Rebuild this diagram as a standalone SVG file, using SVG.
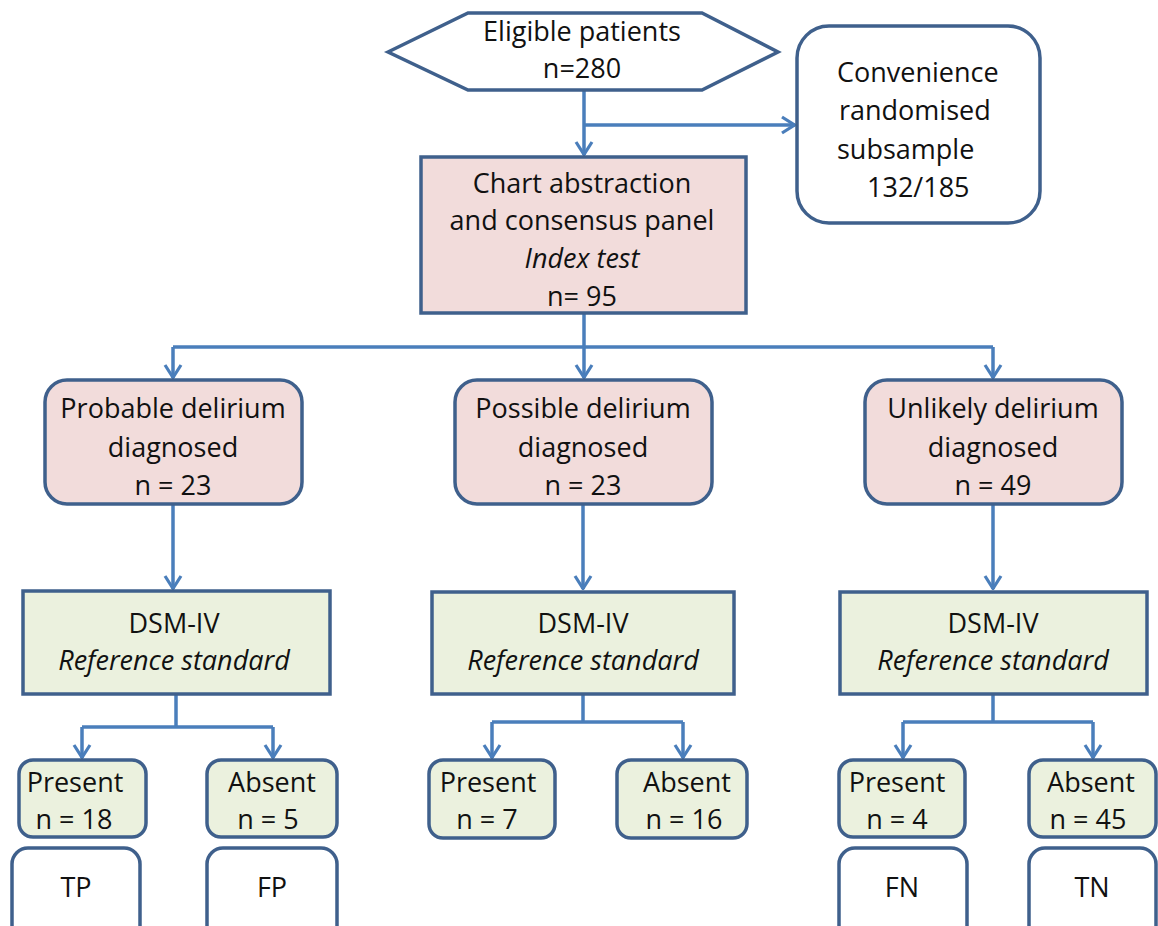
<svg xmlns="http://www.w3.org/2000/svg" width="1158" height="926" viewBox="0 0 1158 926">
<style>
.box{stroke:#3f608c;stroke-width:3.5}
.pink{fill:#f2dcdb}
.green{fill:#ebf1de}
.white{fill:#ffffff}
.t{font-family:"Open Sans","Liberation Sans",sans-serif;font-size:27px;fill:#111;text-anchor:middle}
.it{font-style:italic}
.ln{fill:none;stroke:#4a7ebb;stroke-width:3.5}
</style>
<defs>
<marker id="ar" viewBox="0 0 16 20" refX="15" refY="10" markerWidth="16" markerHeight="20" markerUnits="userSpaceOnUse" orient="auto">
<path d="M2,2 L14.5,10 L2,18" fill="none" stroke="#4a7ebb" stroke-width="3.2"/>
</marker>
</defs>
<rect width="1158" height="926" fill="#ffffff"/>
<g id="connectors">
<path class="ln" d="M584,90 V155" marker-end="url(#ar)"/>
<path class="ln" d="M584,125 H795" marker-end="url(#ar)"/>
<path class="ln" d="M584,313 V378" marker-end="url(#ar)"/>
<path class="ln" d="M173,347 H993"/>
<path class="ln" d="M173,347 V378" marker-end="url(#ar)"/>
<path class="ln" d="M993,347 V378" marker-end="url(#ar)"/>
<path class="ln" d="M173,504 V589" marker-end="url(#ar)"/>
<path class="ln" d="M583,504 V589" marker-end="url(#ar)"/>
<path class="ln" d="M993,504 V589" marker-end="url(#ar)"/>
<path class="ln" d="M176,694 V727"/>
<path class="ln" d="M82,727 H273"/>
<path class="ln" d="M82,727 V758" marker-end="url(#ar)"/>
<path class="ln" d="M273,727 V758" marker-end="url(#ar)"/>
<path class="ln" d="M583,694 V722"/>
<path class="ln" d="M492,722 H683"/>
<path class="ln" d="M492,722 V758" marker-end="url(#ar)"/>
<path class="ln" d="M683,722 V758" marker-end="url(#ar)"/>
<path class="ln" d="M993,694 V722"/>
<path class="ln" d="M903,722 H1093"/>
<path class="ln" d="M903,722 V758" marker-end="url(#ar)"/>
<path class="ln" d="M1093,722 V758" marker-end="url(#ar)"/>
</g>
<g id="eligible">
<polygon class="box white" points="388,52 468,13 702,13 778,52 702,90 468,90"/>
<text class="t" x="582" y="41">Eligible patients</text>
<text class="t" x="582" y="78">n=280</text>
</g>
<g id="convenience">
<rect class="box white" x="797" y="26" width="243" height="197" rx="32"/>
<text class="t" x="837" y="82" style="text-anchor:start">Convenience</text>
<text class="t" x="839" y="120" style="text-anchor:start">randomised</text>
<text class="t" x="837" y="159" style="text-anchor:start">subsample</text>
<text class="t" x="867" y="197" style="text-anchor:start">132/185</text>
</g>
<g id="chart">
<rect class="box pink" x="421" y="157" width="325" height="156"/>
<text class="t" x="582" y="193">Chart abstraction</text>
<text class="t" x="582" y="230">and consensus panel</text>
<text class="t it" x="582" y="268">Index test</text>
<text class="t" x="582" y="306">n= 95</text>
</g>
<g id="probable">
<rect class="box pink" x="45" y="380" width="257" height="124" rx="22"/>
<text class="t" x="173" y="418">Probable delirium</text>
<text class="t" x="173" y="457">diagnosed</text>
<text class="t" x="173" y="495">n = 23</text>
</g>
<g id="possible">
<rect class="box pink" x="455" y="380" width="257" height="124" rx="22"/>
<text class="t" x="583" y="418">Possible delirium</text>
<text class="t" x="583" y="457">diagnosed</text>
<text class="t" x="583" y="495">n = 23</text>
</g>
<g id="unlikely">
<rect class="box pink" x="865" y="380" width="257" height="124" rx="22"/>
<text class="t" x="993" y="418">Unlikely delirium</text>
<text class="t" x="993" y="457">diagnosed</text>
<text class="t" x="993" y="495">n = 49</text>
</g>
<g id="dsm1">
<rect class="box green" x="23" y="591" width="307" height="103"/>
<text class="t" x="174" y="633">DSM-IV</text>
<text class="t it" x="174" y="670">Reference standard</text>
</g>
<g id="dsm2">
<rect class="box green" x="432" y="592" width="302" height="102"/>
<text class="t" x="583" y="633">DSM-IV</text>
<text class="t it" x="583" y="670">Reference standard</text>
</g>
<g id="dsm3">
<rect class="box green" x="840" y="592" width="307" height="102"/>
<text class="t" x="993" y="633">DSM-IV</text>
<text class="t it" x="993" y="670">Reference standard</text>
</g>
<g id="present1">
<rect class="box green" x="19" y="760" width="127" height="77" rx="14"/>
<text class="t" x="75" y="792">Present</text>
<text class="t" x="74" y="829">n = 18</text>
</g>
<g id="absent1">
<rect class="box green" x="207" y="760" width="130" height="77" rx="14"/>
<text class="t" x="272" y="792">Absent</text>
<text class="t" x="268" y="829">n = 5</text>
</g>
<g id="present2">
<rect class="box green" x="429" y="760" width="126" height="78" rx="14"/>
<text class="t" x="488" y="792">Present</text>
<text class="t" x="487" y="829">n = 7</text>
</g>
<g id="absent2">
<rect class="box green" x="617" y="760" width="130" height="78" rx="14"/>
<text class="t" x="687" y="792">Absent</text>
<text class="t" x="684" y="829">n = 16</text>
</g>
<g id="present3">
<rect class="box green" x="839" y="760" width="126" height="77" rx="14"/>
<text class="t" x="897" y="792">Present</text>
<text class="t" x="897" y="829">n = 4</text>
</g>
<g id="absent3">
<rect class="box green" x="1029" y="760" width="127" height="77" rx="14"/>
<text class="t" x="1091" y="792">Absent</text>
<text class="t" x="1088" y="829">n = 45</text>
</g>
<g id="tp">
<rect class="box white" x="12" y="848" width="128" height="100" rx="16"/>
<text class="t" x="76" y="897">TP</text>
</g>
<g id="fp">
<rect class="box white" x="207" y="848" width="130" height="100" rx="16"/>
<text class="t" x="272" y="897">FP</text>
</g>
<g id="fn">
<rect class="box white" x="839" y="848" width="128" height="100" rx="16"/>
<text class="t" x="902" y="897">FN</text>
</g>
<g id="tn">
<rect class="box white" x="1029" y="848" width="127" height="100" rx="16"/>
<text class="t" x="1092" y="897">TN</text>
</g>
</svg>
